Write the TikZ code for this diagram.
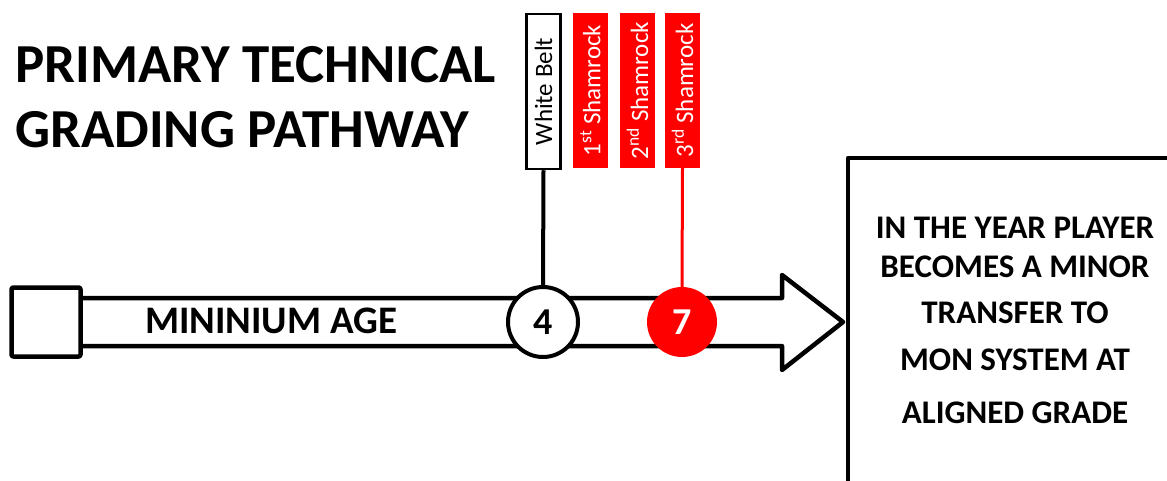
\documentclass[tikz,border=0pt]{standalone}
\usepackage{fontspec}
\setmainfont{Carlito}
\begin{document}
\begin{tikzpicture}[x=1pt,y=-1pt,
  outl/.style={line width=4.5pt, line join=round},
  beltbox/.style={draw=black, line width=2.5pt, fill=white, rotate=90, minimum width=155pt, minimum height=34pt, inner sep=0pt, font=\fontsize{25}{25}\selectfont},
  shambox/.style={fill=red, text=white, rotate=90, minimum width=155pt, minimum height=35pt, inner sep=0pt, font=\fontsize{25}{25}\selectfont},
  agecirc/.style={circle, minimum size=70pt, inner sep=0pt, font=\bfseries\fontsize{38}{38}\selectfont},
  rtext/.style={anchor=base, font=\bfseries\fontsize{33}{33}\selectfont},
  ttext/.style={anchor=base west, inner sep=0pt, font=\bfseries\fontsize{55}{55}\selectfont}]
\useasboundingbox (0,0) rectangle (1167,481);
% title
\node[ttext] (t1) at (15,83) {PRIMARY TECHNICAL};
\node[ttext] (t2) at (15,148) {GRADING PATHWAY};
% start square
\node[draw, outl, minimum size=69pt, inner sep=0pt, rounded corners=2pt] (sq) at (46,322) {};
% arrow
\draw[outl] (sq.east |- 0,298) -- (782,298) -- (782,275) -- (843,322) -- (782,370) -- (782,346) -- (sq.east |- 0,346);
\node[anchor=base west, inner sep=0pt, font=\bfseries\fontsize{39}{39}\selectfont] (age) at (145,333) {MININIUM AGE};
% right box
\draw[outl] (1200,158) -- (848,158) -- (848,520);
\node[rtext] (r1) at (1015,238) {IN THE YEAR PLAYER};
\node[rtext] (r2) at (1015,277) {BECOMES A MINOR};
\node[rtext] (r3) at (1015,323) {TRANSFER TO};
\node[rtext] (r4) at (1015,370) {MON SYSTEM AT};
\node[rtext] (r5) at (1015,423) {ALIGNED GRADE};
% belt boxes
\node[beltbox] (wb) at (543.5,91.5) {White Belt};
\node[shambox] (s1) at (590.5,90.5) {1\textsuperscript{st} Shamrock};
\node[shambox] (s2) at (637.5,90.5) {2\textsuperscript{nd} Shamrock};
\node[shambox] (s3) at (682.5,90.5) {3\textsuperscript{rd} Shamrock};
% circles
\node[agecirc, draw=black, line width=4pt, fill=white] (c4) at (543,322) {4};
\node[agecirc, fill=red, text=white] (c7) at (682,322) {7};
\draw[line width=4pt] (wb.west) -- (c4.north);
\draw[line width=3pt, red] (s3.west) -- (c7.north);
\end{tikzpicture}
\end{document}
